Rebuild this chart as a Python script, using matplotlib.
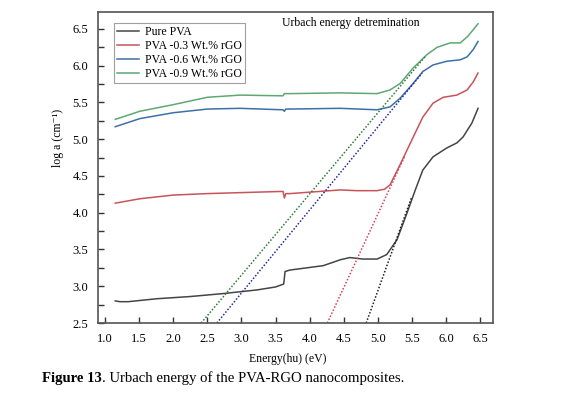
import matplotlib
matplotlib.use('Agg')
import matplotlib.pyplot as plt
from matplotlib.ticker import MultipleLocator

plt.rcParams['font.family'] = ['Liberation Serif', 'DejaVu Serif']

# Curves
x_pure = [1.15, 1.22, 1.34, 1.76, 2.25, 2.73, 3.23, 3.50, 3.62, 3.64, 3.71, 4.20, 4.45, 4.59,
          4.78, 4.99, 5.13, 5.28, 5.43, 5.55, 5.66, 5.81, 6.01, 6.16, 6.25, 6.38, 6.47]
y_pure = [2.80, 2.79, 2.79, 2.83, 2.86, 2.90, 2.95, 2.99, 3.03, 3.20, 3.22, 3.28, 3.36, 3.39,
          3.37, 3.37, 3.43, 3.63, 4.00, 4.31, 4.58, 4.76, 4.88, 4.95, 5.03, 5.22, 5.42]

x_03 = [1.15, 1.51, 2.0, 2.5, 3.23, 3.61, 3.63, 3.65, 3.71, 4.45, 4.69, 4.99, 5.10, 5.18,
        5.33, 5.52, 5.66, 5.81, 5.96, 6.16, 6.31, 6.40, 6.47]
y_03 = [4.13, 4.19, 4.24, 4.26, 4.28, 4.29, 4.20, 4.26, 4.26, 4.31, 4.30, 4.30, 4.32, 4.38,
        4.66, 5.03, 5.30, 5.49, 5.57, 5.60, 5.67, 5.78, 5.90]

x_06 = [1.15, 1.51, 2.0, 2.5, 2.98, 3.61, 3.63, 3.65, 3.71, 4.45, 4.99, 5.18, 5.33, 5.52,
        5.66, 5.81, 6.01, 6.21, 6.31, 6.40, 6.47]
y_06 = [5.17, 5.28, 5.36, 5.41, 5.42, 5.40, 5.38, 5.41, 5.41, 5.42, 5.40, 5.44, 5.56, 5.76,
        5.92, 6.01, 6.06, 6.08, 6.12, 6.22, 6.33]

x_09 = [1.15, 1.51, 2.0, 2.5, 2.98, 3.61, 3.63, 3.71, 4.45, 4.99, 5.18, 5.33, 5.52, 5.72,
        5.87, 6.06, 6.21, 6.32, 6.40, 6.47]
y_09 = [5.27, 5.38, 5.47, 5.57, 5.60, 5.59, 5.62, 5.62, 5.63, 5.62, 5.67, 5.76, 5.97, 6.15,
        6.25, 6.31, 6.31, 6.40, 6.49, 6.57]

# Urbach fit lines (start, end)
fit_pure_x, fit_pure_y = [4.83, 5.50], [2.50, 4.22]
fit_03_x, fit_03_y = [4.26, 5.40], [2.50, 4.78]
fit_06_x, fit_06_y = [2.64, 5.65], [2.50, 5.90]
fit_09_x, fit_09_y = [2.41, 5.70], [2.50, 6.13]

labels = ['Pure PVA', 'PVA -0.3 Wt.% rGO', 'PVA -0.6 Wt.% rGO', 'PVA -0.9 Wt.% rGO']
xticks = [1.0, 1.5, 2.0, 2.5, 3.0, 3.5, 4.0, 4.5, 5.0, 5.5, 6.0, 6.5]
yticks = [2.5, 3.0, 3.5, 4.0, 4.5, 5.0, 5.5, 6.0, 6.5]

fig = plt.figure(figsize=(5.81, 3.94), dpi=100)
ax = fig.add_axes([0.1687, 0.1802, 0.6799, 0.7893])

ax.plot(x_pure, y_pure, color='#454545', lw=1.1, label=labels[0])
ax.plot(x_03, y_03, color='#c8545a', lw=1.1, label=labels[1])
ax.plot(x_06, y_06, color='#3d6fa8', lw=1.1, label=labels[2])
ax.plot(x_09, y_09, color='#5fa773', lw=1.1, label=labels[3])

ax.plot(fit_pure_x, fit_pure_y, color='#202020', lw=1.1, ls=(0, (1, 1.2)))
ax.plot(fit_03_x, fit_03_y, color='#d8405a', lw=1.1, ls=(0, (1, 1.2)))
ax.plot(fit_06_x, fit_06_y, color='#2a2a9a', lw=1.1, ls=(0, (1, 1.2)))
ax.plot(fit_09_x, fit_09_y, color='#2f7a3a', lw=1.1, ls=(0, (1, 1.2)))

ax.set_xlim(0.897, 6.69)
ax.set_ylim(2.5, 6.73)
ax.set_xticks(xticks)
ax.set_yticks(yticks)
ax.yaxis.set_minor_locator(MultipleLocator(0.25))
ax.tick_params(which='both', direction='in', length=4, width=1, color='#333333',
               labelsize=9, top=False, right=False)
ax.tick_params(axis='x', pad=7)
ax.tick_params(axis='y', pad=7)
for s in ax.spines.values():
    s.set_color('#555555')
    s.set_linewidth(1.2)

ax.set_xlabel('Energy(hu) (eV)', fontsize=8.5)
ax.xaxis.set_label_coords(0.481, -0.096)
ax.set_ylabel('log a (cm\u207b\u00b9)', fontsize=8.5)
ax.yaxis.set_label_coords(-0.086, 0.595)
ax.text(0.467, 0.965, 'Urbach energy detremination', transform=ax.transAxes,
        fontsize=8.5, va='center', ha='left')

leg = ax.legend(loc='upper left', bbox_to_anchor=(0.04, 0.965), borderaxespad=0,
                fontsize=8.5, frameon=True, fancybox=False, handlelength=1.8,
                handletextpad=0.5, labelspacing=0.15, borderpad=0.3)
leg.get_frame().set_edgecolor('#888888')
leg.get_frame().set_linewidth(0.8)

t1 = fig.text(0.072, 0.030, 'Figure 13', fontsize=10.6, fontweight='bold', va='baseline')
ax.annotate('. Urbach energy of the PVA-RGO nanocomposites.', xy=(1, 0), xycoords=t1,
            fontsize=10.6, va='bottom', annotation_clip=False)

fig.savefig('out.png', dpi=100)
